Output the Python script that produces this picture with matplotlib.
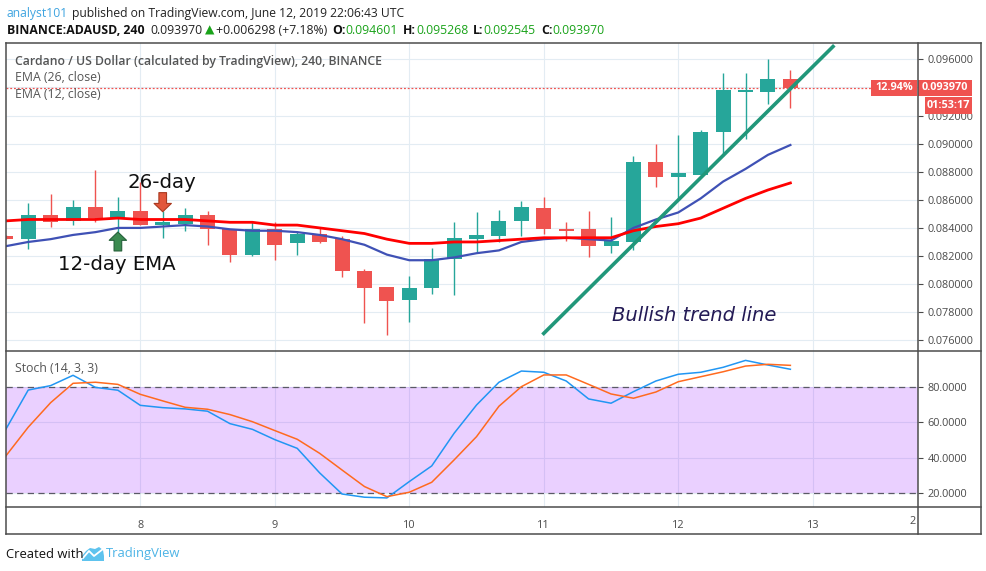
import numpy as np
import matplotlib
matplotlib.use("Agg")
import matplotlib.pyplot as plt
from matplotlib.patches import Rectangle, Polygon
from matplotlib.lines import Line2D
from matplotlib.transforms import blended_transform_factory

plt.rcParams["font.family"] = ["Open Sans", "DejaVu Sans"]

# ADA/USD 4h candles, Jun 7 00:00 -> Jun 12 20:00
opens = [0.0834, 0.0832, 0.0849, 0.0845, 0.0855, 0.0847, 0.0852, 0.0842, 0.0843,
         0.0849, 0.0839, 0.0821, 0.0839, 0.0829, 0.0836, 0.0832, 0.0809, 0.0798,
         0.0789, 0.0797, 0.0818, 0.0832, 0.0834, 0.0845, 0.0854, 0.0839, 0.0839,
         0.0827, 0.0830, 0.0887, 0.0876, 0.0878, 0.0908, 0.0937, 0.0937, 0.094601]
highs = [0.0835, 0.0858, 0.0864, 0.0860, 0.0881, 0.0862, 0.0873, 0.0852, 0.0854,
         0.0852, 0.0839, 0.0844, 0.0844, 0.0837, 0.0840, 0.0834, 0.0811, 0.0798,
         0.0806, 0.0826, 0.0844, 0.0851, 0.0853, 0.0859, 0.0862, 0.0844, 0.0852,
         0.0848, 0.0891, 0.0900, 0.0906, 0.0910, 0.0950, 0.0950, 0.0960, 0.095268]
lows = [0.0832, 0.0825, 0.0841, 0.0842, 0.0844, 0.0837, 0.0842, 0.0833, 0.0838,
        0.0828, 0.0816, 0.0820, 0.0817, 0.0821, 0.0829, 0.0805, 0.0772, 0.0764,
        0.0773, 0.0793, 0.0792, 0.0823, 0.0830, 0.0834, 0.0836, 0.0831, 0.0819,
        0.0822, 0.0824, 0.0869, 0.0860, 0.0876, 0.0891, 0.0903, 0.0928, 0.092545]
closes = [0.0832, 0.0849, 0.0844, 0.0855, 0.0847, 0.0852, 0.0842, 0.0844, 0.0849,
          0.0839, 0.0821, 0.0839, 0.0828, 0.0836, 0.0830, 0.0809, 0.0797, 0.0788,
          0.0797, 0.0818, 0.0833, 0.0835, 0.0845, 0.0855, 0.0839, 0.0838, 0.0827,
          0.0831, 0.0887, 0.0876, 0.0879, 0.0908, 0.0938, 0.0938, 0.0946, 0.093970]

ema26 = [0.0845, 0.0846, 0.0846, 0.0846, 0.0846, 0.0847, 0.0846, 0.0846, 0.0846,
         0.0845, 0.0844, 0.0844, 0.0842, 0.0842, 0.0840, 0.0838, 0.0836, 0.0832,
         0.0829, 0.0829, 0.0830, 0.0830, 0.0831, 0.0832, 0.0833, 0.0833, 0.0833,
         0.0833, 0.0838, 0.0841, 0.0843, 0.0847, 0.0854, 0.0861, 0.0867, 0.0872]
ema12 = [0.0827, 0.0830, 0.0832, 0.0835, 0.0837, 0.0840, 0.0840, 0.0841, 0.0842,
         0.0841, 0.0839, 0.0838, 0.0838, 0.0837, 0.0835, 0.0832, 0.0828, 0.0821,
         0.0817, 0.0817, 0.0819, 0.0822, 0.0824, 0.0830, 0.0832, 0.0833, 0.0832,
         0.0831, 0.0840, 0.0846, 0.0851, 0.0861, 0.0873, 0.0882, 0.0892, 0.0899]

stoch_k = [56.0, 78.1, 80.6, 86.4, 79.6, 78.0, 69.5, 68.2, 67.5, 66.2, 59.2, 56.0,
           50.2, 45.3, 31.5, 19.6, 17.8, 17.4, 26.6, 35.4, 53.8, 69.7, 82.5, 88.8,
           88.1, 83.2, 73.1, 70.7, 77.2, 83.2, 87.0, 88.1, 90.9, 94.8, 92.2, 89.8]
stoch_d = [41.0, 57.2, 71.0, 81.9, 82.5, 81.3, 75.7, 72.0, 68.4, 67.3, 64.3, 60.3,
           55.3, 50.4, 42.5, 33.1, 23.8, 18.1, 20.6, 26.2, 38.8, 51.9, 69.0, 80.0,
           86.6, 86.6, 81.3, 75.9, 73.5, 77.0, 82.8, 85.6, 88.4, 91.6, 92.6, 92.0]

day_ticks = [8, 9, 10, 11, 12, 13]
price_ticks = [0.076, 0.078, 0.080, 0.082, 0.084, 0.086, 0.088, 0.090, 0.092, 0.094, 0.096]
stoch_ticks = [20, 40, 60, 80]

# hand drawn trend line (day, price)
trend_x = [10.99, 13.16]
trend_y = [0.0764, 0.0970]

GREEN = "#26a69a"
RED = "#ef5350"
GRID = "#e3ecf3"
BORDER = "#4d4d4d"
AXTXT = "#4a4a4a"

W, H = 987, 571
fig = plt.figure(figsize=(W / 100, H / 100), dpi=100)


def fx(px):
    return px / W


def fy(py):
    return 1 - py / H


# pane edges in pixels
L, R, RR = 6.3, 918.3, 981.0
TOP, MID, BOT, XB = 43.3, 351.0, 507.3, 534.0

ax = fig.add_axes([fx(L), fy(MID), fx(R) - fx(L), fy(TOP) - fy(MID)])
ax2 = fig.add_axes([fx(L), fy(BOT), fx(R) - fx(L), fy(MID) - fy(BOT)], sharex=ax)

t = 7 + np.arange(len(closes)) / 6.0
o = np.array(opens)
c = np.array(closes)
up = c >= o
cols = np.where(up, GREEN, RED)

# candles
ax.vlines(t, lows, highs, colors=cols, lw=1.0, zorder=3)
body_lo = np.minimum(o, c)
body_h = np.maximum(np.abs(c - o), 0.00012)
ax.bar(t, body_h, bottom=body_lo, width=0.112, color=cols, lw=0, zorder=4)

# EMAs
ax.plot(t, ema12, color="#3f51b5", lw=1.6, zorder=5)
ax.plot(t, ema26, color="#ff0000", lw=2.0, zorder=5)

ax.plot(trend_x, trend_y, color="#21977a", lw=2.6, solid_capstyle="butt", zorder=6)

last = closes[-1]

ax.set_xlim(7.0037, 13.7844)
ax.set_ylim(0.07524, 0.097139)
ax.set_xticks(day_ticks)
ax.set_yticks(price_ticks)
# the live price tag covers the 0.094 label
ax.set_yticklabels(["" if abs(p - last) < 0.0008 else f"{p:.6f}" for p in price_ticks])
ax.yaxis.tick_right()
ax.tick_params(axis="x", length=0, labelbottom=False)
ax.tick_params(axis="y", length=3.5, width=0.8, color=AXTXT, labelsize=7.8,
               labelcolor=AXTXT, pad=3)
ax.grid(True, color=GRID, lw=0.8)
ax.set_axisbelow(True)
for s in ax.spines.values():
    s.set_visible(False)

# annotations
ax.text(8.159, 0.08722, "26-day", family="DejaVu Sans", fontsize=14.2,
        ha="center", va="center", color="#111111", zorder=7)
ax.text(7.828, 0.08143, "12-day EMA", family="DejaVu Sans", fontsize=14.2,
        ha="center", va="center", color="#111111", zorder=7)
ax.text(12.12, 0.0778, "Bullish trend line", family="DejaVu Sans", style="italic",
        fontsize=14.0, ha="center", va="center", color="#231a55", zorder=7)

ax.annotate("", xy=(t[5], 0.08371), xytext=(t[5], 0.08236),
            arrowprops=dict(arrowstyle="simple,head_length=0.6,head_width=1.25,tail_width=0.55",
                            fc="#3b8b50", ec="#24603a", lw=0.8, shrinkA=0, shrinkB=0,
                            mutation_scale=10), zorder=7)
ax.annotate("", xy=(t[7], 0.08515), xytext=(t[7], 0.08651),
            arrowprops=dict(arrowstyle="simple,head_length=0.6,head_width=1.25,tail_width=0.55",
                            fc="#e2573b", ec="#a9391f", lw=0.8, shrinkA=0, shrinkB=0,
                            mutation_scale=10), zorder=7)

# last price line and labels
pp = (ax.get_ylim()[1] - ax.get_ylim()[0]) / (MID - TOP)
tr = blended_transform_factory(ax.transAxes, ax.transData)
ax.plot([0, 0.948], [last, last], transform=tr, color=RED, lw=0.9, ls=(0, (1.5, 1.5)), zorder=2)
ax.add_patch(Rectangle((1.0, last - 8 * pp), 0.0589, 16 * pp, transform=tr,
                       color=RED, lw=0, clip_on=False, zorder=8))
ax.text(1.0295, last, f"{last:.6f}", transform=tr, ha="center", va="center",
        color="white", fontsize=7.8, fontweight="bold", clip_on=False, zorder=9)
ax.add_patch(Rectangle((0.9481, last - 8 * pp), 0.0502, 16 * pp, transform=tr,
                       color=RED, lw=0, clip_on=False, zorder=8))
ax.text(0.9732, last, "12.94%", transform=tr, ha="center", va="center",
        color="white", fontsize=7.8, fontweight="bold", clip_on=False, zorder=9)
ax.add_patch(Rectangle((1.0073, last - 26 * pp), 0.0516, 17 * pp, transform=tr,
                       color=RED, lw=0, clip_on=False, zorder=8))
ax.text(1.0331, last - 17.5 * pp, "01:53:17", transform=tr, ha="center", va="center",
        color="white", fontsize=7.8, fontweight="bold", clip_on=False, zorder=9)

# stochastic pane
ax2.axhspan(20, 80, color=(0.6, 0.08, 1.0), alpha=0.2, lw=0, zorder=1)
ax2.axhline(80, color="#5a5a66", lw=0.9, ls=(0, (5, 3.5)), zorder=2)
ax2.axhline(20, color="#5a5a66", lw=0.9, ls=(0, (5, 3.5)), zorder=2)
ax2.plot(t, stoch_k, color="#2196f3", lw=1.1, zorder=3)
ax2.plot(t, stoch_d, color="#ff6a1f", lw=1.1, zorder=3)
ax2.set_ylim(12.12, 100.08)
ax2.set_yticks(stoch_ticks)
ax2.yaxis.tick_right()
ax2.yaxis.set_major_formatter(matplotlib.ticker.FormatStrFormatter("%.4f"))
ax2.tick_params(axis="y", length=3.5, width=0.8, color=AXTXT, labelsize=7.8,
                labelcolor=AXTXT, pad=3)
ax2.tick_params(axis="x", length=0, labelsize=7.8, labelcolor=AXTXT, pad=9)
ax2.set_xticks(day_ticks)
ax2.set_xticklabels([str(d) for d in day_ticks])
ax2.grid(True, color=GRID, lw=0.8)
ax2.set_axisbelow(True)
for s in ax2.spines.values():
    s.set_visible(False)
fig.text(fx(913), fy(521), "2", color=AXTXT, fontsize=7.8, ha="center", va="center")

# frame lines
for (x0, y0, x1, y1) in [(L, TOP, RR, TOP), (L, XB, RR, XB), (L, TOP, L, XB),
                         (RR, TOP, RR, XB), (R, TOP, R, XB), (L, MID, RR, MID),
                         (L, BOT, RR, BOT)]:
    fig.add_artist(Line2D([fx(x0), fx(x1)], [fy(y0), fy(y1)], color=BORDER, lw=1.1))

# pane legends
fig.text(fx(15), fy(61), "Cardano / US Dollar (calculated by TradingView), 240, BINANCE",
         color="#555555", fontsize=8.85, fontweight="semibold", va="center")
fig.text(fx(15), fy(77.5), "EMA (26, close)", color="#555555", fontsize=8.85, va="center")
fig.text(fx(15), fy(94.5), "EMA (12, close)", color="#555555", fontsize=8.85, va="center")
fig.text(fx(15), fy(369), "Stoch (14, 3, 3)", color="#555555", fontsize=8.85, va="center")

# header lines
renderer = fig.canvas.get_renderer()


def text_run(x, y, pieces, size):
    for s, color, weight, gap in pieces:
        txt = fig.text(fx(x), fy(y), s, color=color, fontsize=size, fontweight=weight,
                       va="center", ha="left")
        x += txt.get_window_extent(renderer).width + gap


text_run(7, 13.5, [("analyst101", "#3fa4e0", "normal", 4),
                   ("published on TradingView.com, June 12, 2019 22:06:43 UTC", "#222222", "normal", 0)],
         8.75)
text_run(7, 30.5, [("BINANCE:ADAUSD, 240", "#111111", "bold", 6),
                   ("0.093970", "#222222", "normal", 2),
                   ("\u25b2", "#1aa31a", "normal", 2),
                   ("+0.006298 (+7.18%)", "#222222", "normal", 5),
                   ("O:", "#111111", "bold", 0), ("0.094601", "#1aa31a", "normal", 5),
                   ("H:", "#111111", "bold", 0), ("0.095268", "#1aa31a", "normal", 5),
                   ("L:", "#111111", "bold", 0), ("0.092545", "#1aa31a", "normal", 5),
                   ("C:", "#111111", "bold", 0), ("0.093970", "#1aa31a", "normal", 0)],
         8.85)

# footer
fig.text(fx(6), fy(554), "Created with", color="#111111", fontsize=9.4, va="center")
logo = Polygon([(fx(82), fy(561)), (fx(82), fy(556)), (fx(86), fy(551)), (fx(90), fy(548)),
                (fx(95), fy(549)), (fx(99), fy(547)), (fx(103), fy(550)), (fx(104), fy(556)),
                (fx(104), fy(561))], closed=True, color="#5ec3ee", lw=0)
fig.add_artist(logo)
fig.add_artist(Line2D([fx(83), fx(89), fx(94), fx(103)], [fy(558), fy(551), fy(556), fy(549)],
                      color="white", lw=1.3))
fig.text(fx(106), fy(554), "TradingView", color="#4db4e6", fontsize=9.4, va="center")

fig.savefig("out.png", dpi=100)
